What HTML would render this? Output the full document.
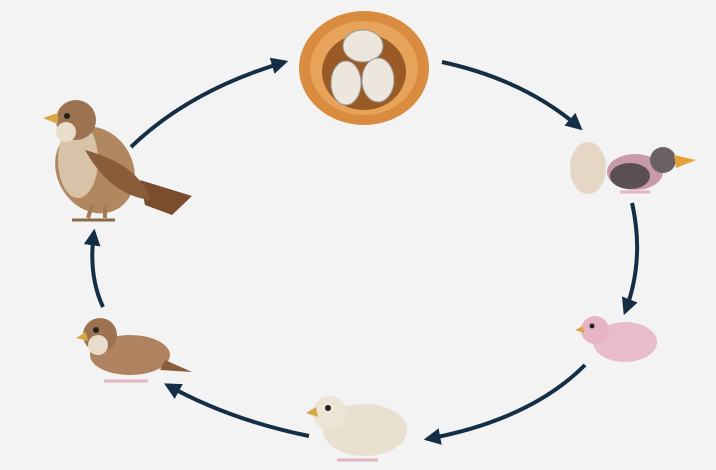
<!DOCTYPE html>
<html><head><style>html,body{margin:0;padding:0;background:#f3f3f3}svg{display:block}</style></head>
<body>
<svg width="716" height="470" viewBox="0 0 716 470" xmlns="http://www.w3.org/2000/svg">
<defs>
<marker id="a" viewBox="0 0 10 10" refX="8" refY="5" markerWidth="4.2" markerHeight="4.2" orient="auto-start-reverse">
<path d="M0,0 L10,5 L0,10 Z" fill="#142f45"/></marker>
</defs>
<rect width="716" height="470" fill="#f3f3f3"/>
<g fill="none" stroke="#142f45" stroke-width="4" marker-end="url(#a)">
<path d="M131,147 Q190,90 285,62"/>
<path d="M442,62 Q525,80 580,128"/>
<path d="M632,203 Q645,260 625,312"/>
<path d="M585,365 Q530,420 427,439"/>
<path d="M309,436 Q230,420 167,385"/>
<path d="M103,307 Q88,275 94,232"/>
</g>
<!-- nest -->
<ellipse cx="364" cy="68" rx="65" ry="57" fill="#d98c3f"/>
<ellipse cx="364" cy="68" rx="54" ry="47" fill="#e8a35a"/>
<ellipse cx="364" cy="72" rx="42" ry="38" fill="#9a5a26"/>
<ellipse cx="363" cy="46" rx="20" ry="16" fill="#ece6dd" stroke="#999" stroke-width="1"/>
<ellipse cx="346" cy="83" rx="15" ry="22" fill="#ece6dd" stroke="#999" stroke-width="1"/>
<ellipse cx="378" cy="80" rx="16" ry="22" fill="#ece6dd" stroke="#999" stroke-width="1"/>
<!-- adult bird -->
<path d="M140,180 L192,196 L172,215 L145,205Z" fill="#7a4d2e"/>
<ellipse cx="95" cy="170" rx="38" ry="45" fill="#b0875f" transform="rotate(-30 95 170)"/>
<ellipse cx="78" cy="160" rx="20" ry="38" fill="#d8c3a8"/>
<path d="M85,150 Q140,165 150,200 Q110,195 85,150Z" fill="#8a5d3a"/>
<circle cx="76" cy="120" r="20" fill="#9c7250"/>
<circle cx="66" cy="132" r="10" fill="#e8dccb"/>
<circle cx="67" cy="116" r="3" fill="#222"/>
<path d="M58,113 L43,118 L58,124Z" fill="#d9a644"/>
<path d="M92,205 L88,218 M105,205 L105,218" stroke="#a37a52" stroke-width="4"/>
<path d="M72,220 L115,220" stroke="#8a6a4a" stroke-width="3"/>
<!-- hatchling -->
<ellipse cx="588" cy="168" rx="18" ry="26" fill="#e5d6c6"/>
<ellipse cx="635" cy="172" rx="28" ry="18" fill="#c89aa8"/>
<ellipse cx="630" cy="176" rx="20" ry="13" fill="#5a4f52"/>
<circle cx="663" cy="160" r="13" fill="#6b6065"/>
<path d="M674,155 L696,160 L676,168Z" fill="#e4a23a"/>
<path d="M620,192 L650,192" stroke="#e2b5c0" stroke-width="3"/>
<!-- pink chick -->
<ellipse cx="625" cy="342" rx="32" ry="20" fill="#e8bcc8"/>
<circle cx="595" cy="330" r="14" fill="#e6b4c2"/>
<circle cx="592" cy="326" r="2.5" fill="#222"/>
<path d="M583,326 L575,330 L584,333Z" fill="#d9a644"/>
<!-- cream chick -->
<ellipse cx="365" cy="430" rx="42" ry="26" fill="#e9e0cf"/>
<circle cx="330" cy="413" r="17" fill="#ece4d4"/>
<circle cx="328" cy="408" r="3" fill="#222"/>
<path d="M316,407 L306,413 L318,417Z" fill="#d9a644"/>
<path d="M337,460 L378,460" stroke="#e2b5c0" stroke-width="3"/>
<!-- juvenile -->
<ellipse cx="130" cy="355" rx="40" ry="20" fill="#b08360"/>
<path d="M165,360 L192,372 L160,370Z" fill="#8a5d3a"/>
<circle cx="100" cy="335" r="17" fill="#9c7250"/>
<circle cx="98" cy="345" r="10" fill="#e8dccb"/>
<circle cx="96" cy="330" r="3" fill="#222"/>
<path d="M86,332 L76,338 L88,341Z" fill="#d9a644"/>
<path d="M104,381 L148,381" stroke="#e2b5c0" stroke-width="3"/>
</svg>
</body></html>
